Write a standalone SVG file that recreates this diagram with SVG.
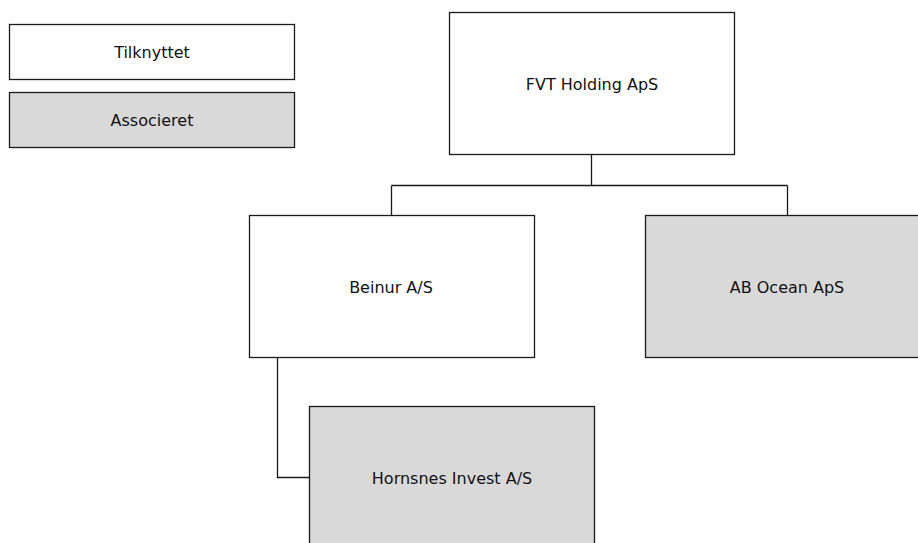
<svg xmlns="http://www.w3.org/2000/svg" width="918" height="543" viewBox="0 0 918 543">
<style>
.box{stroke:#1a1a1a;stroke-width:1.3;fill:#ffffff}
.grey{fill:#d9d9d9}
.lbl{font-family:"DejaVu Sans",Verdana,sans-serif;font-size:16px;fill:#111;text-anchor:middle;dominant-baseline:central}
.conn{stroke:#1a1a1a;stroke-width:1.3;fill:none}
</style>
<rect width="918" height="543" fill="#ffffff"/>
<g id="legend-tilknyttet"><rect class="box" x="9.5" y="24.5" width="285" height="55"/><text class="lbl" x="152" y="52">Tilknyttet</text></g>
<g id="legend-associeret"><rect class="box grey" x="9.5" y="92.5" width="285" height="55"/><text class="lbl" x="152" y="120">Associeret</text></g>
<g id="connectors">
<path class="conn" d="M591.5 154.5 V185.5 M391.5 185.5 H787.5 M391.5 185.5 V215.5 M787.5 185.5 V215.5 M277.5 357.5 V477.5 H309.5"/>
</g>
<g id="fvt"><rect class="box" x="449.5" y="12.5" width="285" height="142"/><text class="lbl" x="592" y="84">FVT Holding ApS</text></g>
<g id="beinur"><rect class="box" x="249.5" y="215.5" width="285" height="142"/><text class="lbl" x="391" y="287">Beinur A/S</text></g>
<g id="abocean"><rect class="box grey" x="645.5" y="215.5" width="285" height="142"/><text class="lbl" x="787" y="287">AB Ocean ApS</text></g>
<g id="hornsnes"><rect class="box grey" x="309.5" y="406.5" width="285" height="142"/><text class="lbl" x="452" y="478">Hornsnes Invest A/S</text></g>
</svg>
